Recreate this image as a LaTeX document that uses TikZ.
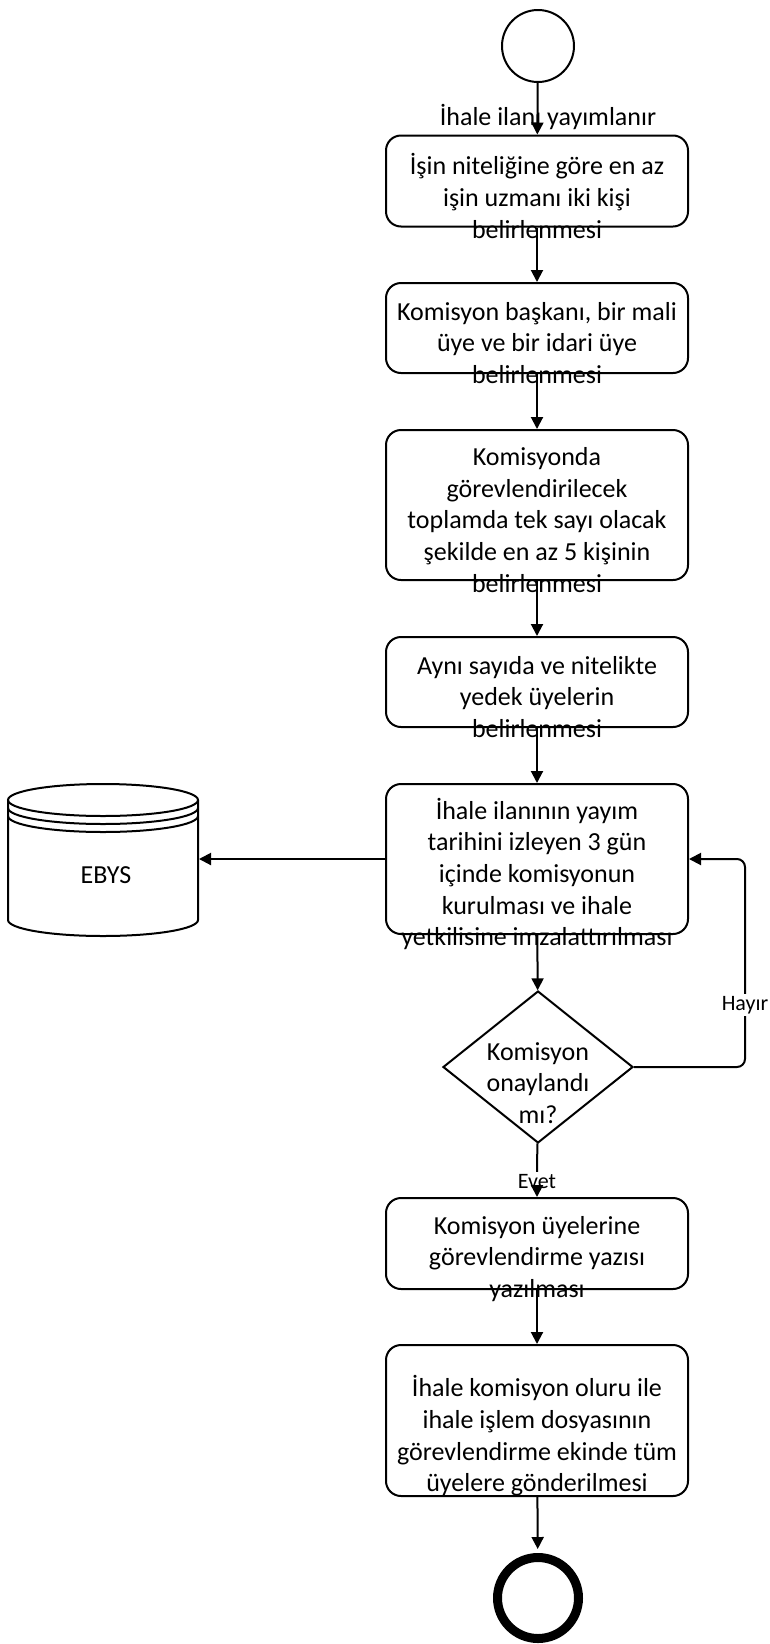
\documentclass[tikz,border=0pt]{standalone}
\usepackage{fontspec}
\setmainfont{Carlito}
\usepackage{tikz}
\usetikzlibrary{arrows.meta, shapes.geometric}

\begin{document}
\begin{tikzpicture}[->,>={Triangle[length=12pt,width=12pt]},x=1pt,y=1pt,
  line width=2pt,
  box/.style={rectangle,draw,rounded corners=15pt,minimum width=302pt,inner sep=0pt},
  txt/.style={align=center,inner sep=0pt,font=\fontsize{26}{31.7}\selectfont},
  lbl/.style={inner sep=2pt,font=\fontsize{22}{26}\selectfont}]

    \useasboundingbox (0,0) rectangle (770,-1644);

    % start and end
    \node[circle,draw,minimum size=72pt,inner sep=0pt] (0) at (538,-46) {};
    \node[circle,draw,line width=9pt,minimum size=81pt,inner sep=0pt] (9) at (538,-1598) {};

    % steps
    \node[box,minimum height=91pt] (1) at (537,-181) {};
    \node[box,minimum height=90pt] (2) at (537,-328) {};
    \node[box,minimum height=150pt] (3) at (537,-505) {};
    \node[box,minimum height=90pt] (4) at (537,-682) {};
    \node[box,minimum height=150pt] (5) at (537,-859) {};
    \node[diamond,draw,minimum width=190pt,minimum height=152pt,inner sep=0pt] (6) at (538,-1067) {};
    \node[box,minimum height=91pt] (7) at (537,-1243.5) {};
    \node[box,minimum height=151pt] (8) at (537,-1420.5) {};

    % EBYS
    \node[minimum width=190pt,minimum height=152pt,inner sep=0pt] (10) at (103,-859) {};
    \draw[-] (103,-800) ellipse [x radius=95, y radius=16];
    \draw[-] (8,-808) arc [start angle=180, end angle=360, x radius=95, y radius=16];
    \draw[-] (8,-816) arc [start angle=180, end angle=360, x radius=95, y radius=16];
    \draw[-] (8,-800) -- (8,-920) arc [start angle=180, end angle=360, x radius=95, y radius=16] -- (198,-800);

    % texts
    \node[txt] (0l) at (548,-117) {İhale ilanı yayımlanır};
    \node[txt] (1t) at (537,-196) {İşin niteliğine göre en az\\işin uzmanı iki kişi\\belirlenmesi};
    \node[txt] (2t) at (537,-343) {Komisyon başkanı, bir mali\\üye ve bir idari üye\\belirlenmesi};
    \node[txt] (3t) at (537,-520) {Komisyonda\\görevlendirilecek\\toplamda tek sayı olacak\\şekilde en az 5 kişinin\\belirlenmesi};
    \node[txt] (4t) at (537,-697) {Aynı sayıda ve nitelikte\\yedek üyelerin\\belirlenmesi};
    \node[txt] (5t) at (537,-874) {İhale ilanının yayım\\tarihini izleyen 3 gün\\içinde komisyonun\\kurulması ve ihale\\yetkilisine imzalattırılması};
    \node[txt] (6t) at (538,-1083) {Komisyon\\onaylandı\\mı?};
    \node[txt] (7t) at (537,-1259) {Komisyon üyelerine\\görevlendirme yazısı\\yazılması};
    \node[txt] (8t) at (537,-1436) {İhale komisyon oluru ile\\ihale işlem dosyasının\\görevlendirme ekinde tüm\\üyelere gönderilmesi};
    \node[txt] (10t) at (106,-875) {EBYS};

    % connectors
    \path (0) edge (1);
    \path (1) edge (2);
    \path (2) edge (3);
    \path (3) edge (4);
    \path (4) edge (5);
    \path (5) edge (10);
    \path (5) edge (6);
    \draw[rounded corners=8pt] (6.east) -- (745,-1067) |- (5.east);
    \node[lbl,fill=white] (h) at (745,-1005) {Hayır};
    \node[lbl,fill=white] (e) at (537,-1182) {Evet};
    \path (6) edge [-] (e);
    \path (e) edge (7);
    \path (7) edge (8);
    \path (8) edge [shorten >=4pt] (9);

\end{tikzpicture}
\end{document}
